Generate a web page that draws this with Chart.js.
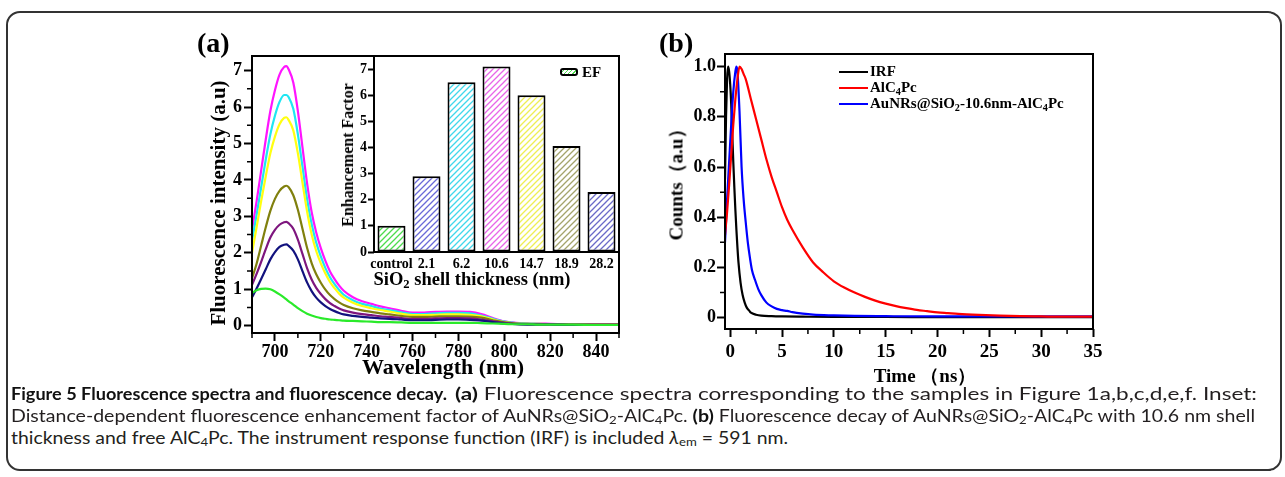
<!DOCTYPE html>
<html>
<head>
<meta charset="utf-8">
<script src="https://cdn.jsdelivr.net/npm/chart.js@4.4.0/dist/chart.umd.min.js"></script>
<style>
html, body { margin: 0; padding: 0; background: #fff; }
body { width: 1285px; height: 477px; position: relative; overflow: hidden; }
#frame { position: absolute; left: 6px; top: 11px; width: 1276px; height: 460px; border: 2px solid #333; border-radius: 14px; box-sizing: border-box; }
canvas { position: absolute; }
.t { position: absolute; font-family: "Liberation Serif", "Times New Roman", serif; font-weight: bold; color: #000; white-space: nowrap; line-height: 1; }
.c { transform: translate(-50%, -50%); }
.r { transform: translate(-50%, -50%) rotate(-90deg); }
.t sub { font-size: 0.68em; vertical-align: -0.25em; line-height: 0; }
.cap { position: absolute; font-family: Lato, "Open Sans", sans-serif; font-size: 16.5px; color: #231f20; white-space: nowrap; line-height: 22px; transform-origin: 0 50%; }
.cap b, .cap.bold { font-weight: bold; color: #111; }
.cap sub { font-size: 0.68em; vertical-align: -0.2em; line-height: 0; }
.leg { position: absolute; height: 2px; width: 29px; }
#efbox { position: absolute; left: 560px; top: 68px; width: 18px; height: 8px; box-sizing: border-box; border: 2px solid #000; border-radius: 3px;
  background: repeating-linear-gradient(-45deg, #fff 0 2px, #4ddc4d 2px 3px); }
</style>
</head>
<body>
<div id="frame"></div>

<canvas id="spectra" width="490" height="350" style="left:150px; top:40px;"></canvas>
<canvas id="inset" width="300" height="255" style="left:330px; top:40px;"></canvas>
<canvas id="decay" width="480" height="350" style="left:640px; top:40px;"></canvas>

<div class="t" style="left:197px; top:29px; font-size:28px;">(a)</div>
<div class="t" style="left:659px; top:29px; font-size:28px;">(b)</div>

<div class="t r" style="left:218px; top:203px; font-size:21px;">Fluorescence intensity (a.u)</div>
<div class="t c" style="left:443px; top:367px; font-size:22px;">Wavelength (nm)</div>
<div class="t r" style="left:348px; top:155px; font-size:16px;">Enhancement Factor</div>
<div class="t c" style="left:472px; top:279px; font-size:18.5px;">SiO<sub>2</sub> shell thickness (nm)</div>
<div id="efbox"></div>
<div class="t" style="left:582px; top:65px; font-size:15px;">EF</div>

<div class="t r" style="left:676px; top:180px; font-size:19px;">Counts（a.u）</div>
<div class="t c" style="left:925px; top:375px; font-size:19px;">Time （ns）</div>

<div class="leg" style="left:839px; top:71px; background:#000;"></div>
<div class="leg" style="left:839px; top:87px; background:#ff0000;"></div>
<div class="leg" style="left:839px; top:103px; background:#0000ff;"></div>
<div class="t" style="left:870px; top:64px; font-size:15px;">IRF</div>
<div class="t" style="left:870px; top:80px; font-size:15px;">AlC<sub>4</sub>Pc</div>
<div class="t" style="left:870px; top:96px; font-size:15px;">AuNRs@SiO<sub>2</sub>-10.6nm-AlC<sub>4</sub>Pc</div>

<div class="cap bold" data-w="436" style="left:11px; top:383px;">Figure 5 Fluorescence spectra and fluorescence decay.</div>
<div class="cap" data-w="802" style="left:455px; top:383px;"><b>(a)</b> Fluorescence spectra corresponding to the samples in Figure 1a,b,c,d,e,f. Inset:</div>
<div class="cap" data-w="1244" style="left:11px; top:405px;">Distance-dependent fluorescence enhancement factor of AuNRs@SiO<sub>2</sub>-AlC<sub>4</sub>Pc. <b>(b)</b> Fluorescence decay of AuNRs@SiO<sub>2</sub>-AlC<sub>4</sub>Pc with 10.6 nm shell</div>
<div class="cap" data-w="777" style="left:11px; top:427px;">thickness and free AlC<sub>4</sub>Pc. The instrument response function (IRF) is included <i>λ</i><sub>em</sub> = 591 nm.</div>

<script>
// Panel (a): emission spectra, one array per sample
const wavelength = [690, 692, 694, 696, 698, 700, 702, 704, 705, 706, 708, 710, 712, 714, 716, 718, 720, 722, 724, 726, 728, 730,
  734, 738, 742, 746, 750, 755, 760, 765, 770, 775, 780, 785, 790, 795, 800, 805, 810, 815, 820, 830, 840, 850];
const specControl = [0.90, 0.97, 1.01, 1.02, 1.00, 0.94, 0.86, 0.77, 0.72, 0.67, 0.58, 0.48, 0.40, 0.33, 0.28, 0.24, 0.21, 0.19, 0.17, 0.16, 0.15, 0.14,
  0.13, 0.12, 0.11, 0.10, 0.10, 0.09, 0.08, 0.08, 0.08, 0.08, 0.08, 0.08, 0.07, 0.06, 0.05, 0.04, 0.04, 0.03, 0.03, 0.03, 0.02, 0.02];
const spec21 = [1.12, 1.42, 1.75, 2.10, 2.42, 2.63, 2.77, 2.84, 2.85, 2.81, 2.66, 2.36, 1.97, 1.58, 1.27, 1.04, 0.87, 0.73, 0.62, 0.54, 0.47, 0.42,
  0.36, 0.32, 0.29, 0.26, 0.24, 0.21, 0.19, 0.19, 0.20, 0.21, 0.21, 0.20, 0.17, 0.12, 0.08, 0.05, 0.04, 0.04, 0.04, 0.03, 0.03, 0.03];
const spec62 = [2.34, 3.04, 3.80, 4.56, 5.25, 5.76, 6.14, 6.33, 6.33, 6.27, 5.95, 5.25, 4.37, 3.48, 2.79, 2.28, 1.90, 1.58, 1.33, 1.14, 0.98, 0.85,
  0.70, 0.60, 0.54, 0.47, 0.43, 0.37, 0.32, 0.32, 0.34, 0.35, 0.35, 0.34, 0.28, 0.19, 0.11, 0.07, 0.06, 0.05, 0.04, 0.04, 0.04, 0.04];
const spec106 = [2.63, 3.41, 4.26, 5.11, 5.89, 6.46, 6.89, 7.10, 7.12, 7.03, 6.67, 5.89, 4.90, 3.91, 3.12, 2.56, 2.13, 1.78, 1.49, 1.28, 1.10, 0.96,
  0.78, 0.67, 0.60, 0.53, 0.48, 0.41, 0.36, 0.36, 0.38, 0.39, 0.39, 0.38, 0.32, 0.21, 0.12, 0.08, 0.06, 0.06, 0.05, 0.04, 0.04, 0.04];
const spec147 = [2.00, 2.70, 3.42, 4.10, 4.73, 5.19, 5.53, 5.70, 5.72, 5.64, 5.36, 4.73, 3.93, 3.14, 2.51, 2.05, 1.71, 1.43, 1.20, 1.03, 0.88, 0.77,
  0.63, 0.54, 0.48, 0.43, 0.39, 0.33, 0.29, 0.29, 0.30, 0.31, 0.31, 0.30, 0.26, 0.17, 0.10, 0.06, 0.05, 0.05, 0.04, 0.03, 0.03, 0.03];
const spec189 = [1.30, 1.70, 2.20, 2.70, 3.15, 3.48, 3.70, 3.82, 3.84, 3.80, 3.58, 3.18, 2.66, 2.14, 1.72, 1.41, 1.18, 0.99, 0.84, 0.73, 0.64, 0.57,
  0.48, 0.42, 0.38, 0.34, 0.31, 0.27, 0.24, 0.24, 0.25, 0.26, 0.26, 0.25, 0.22, 0.15, 0.09, 0.06, 0.05, 0.04, 0.04, 0.03, 0.03, 0.03];
const spec282 = [0.78, 1.02, 1.28, 1.55, 1.82, 2.02, 2.16, 2.22, 2.23, 2.19, 2.06, 1.82, 1.50, 1.19, 0.95, 0.77, 0.64, 0.54, 0.46, 0.40, 0.35, 0.31,
  0.27, 0.24, 0.22, 0.20, 0.19, 0.17, 0.15, 0.15, 0.16, 0.17, 0.17, 0.16, 0.14, 0.10, 0.06, 0.04, 0.03, 0.03, 0.03, 0.02, 0.02, 0.02];
const wlTicks = [700, 720, 740, 760, 780, 800, 820, 840];
const wlMinor = [690, 710, 730, 750, 770, 790, 810, 830, 850];
const intensityTicks = [0, 1, 2, 3, 4, 5, 6, 7];
const intensityMinor = [0.5, 1.5, 2.5, 3.5, 4.5, 5.5, 6.5];

// Inset: enhancement factor vs shell thickness
const thicknessLabels = ['control', '2.1', '6.2', '10.6', '14.7', '18.9', '28.2'];
const enhancementFactor = [1.0, 2.9, 6.5, 7.1, 6.0, 4.06, 2.3];
const efTicks = [0, 1, 2, 3, 4, 5, 6, 7];

// Panel (b): decay curves
const irfTime = [-0.5, -0.4, -0.3, -0.2, -0.1, 0, 0.1, 0.2, 0.3, 0.4, 0.5, 0.6, 0.7, 0.8, 1.0, 1.2, 1.4, 1.6, 1.8, 2.0, 2.5, 3, 4, 5, 7, 10, 15, 20, 25, 30, 35];
const irfCounts = [0.55, 0.80, 0.95, 1.00, 0.98, 0.93, 0.85, 0.73, 0.62, 0.52, 0.43, 0.35, 0.28, 0.22, 0.14, 0.09, 0.06, 0.04, 0.03, 0.02, 0.012, 0.008, 0.006, 0.005, 0.004, 0.003, 0.003, 0.002, 0.002, 0.002, 0.002];
const alcTime = [-0.5, -0.3, -0.1, 0.1, 0.3, 0.5, 0.7, 0.9, 1.1, 1.3, 1.5, 2, 2.5, 3, 3.5, 4, 4.5, 5, 5.5, 6, 7, 8, 9, 10, 11, 12, 13, 14, 15, 16, 17, 18, 19, 20, 21, 22, 24, 26, 28, 30, 32, 35];
const alcCounts = [0.33, 0.42, 0.53, 0.65, 0.77, 0.87, 0.95, 1.00, 0.99, 0.97, 0.95, 0.87, 0.79, 0.71, 0.63, 0.56, 0.50, 0.44, 0.39, 0.35, 0.28, 0.22, 0.18, 0.145, 0.12, 0.10, 0.083, 0.068, 0.056, 0.046, 0.038, 0.031, 0.026, 0.021, 0.018, 0.015, 0.011, 0.008, 0.006, 0.005, 0.004, 0.004];
const aunrTime = [-0.5, -0.3, -0.1, 0.1, 0.3, 0.5, 0.6, 0.7, 0.9, 1.1, 1.3, 1.5, 1.7, 1.9, 2.1, 2.4, 2.7, 3.0, 3.5, 4.0, 4.5, 5.0, 5.5, 6, 7, 8, 10, 12, 15, 20, 25, 30, 35];
const aunrCounts = [0.30, 0.47, 0.62, 0.77, 0.90, 0.98, 1.00, 0.98, 0.82, 0.60, 0.47, 0.38, 0.30, 0.24, 0.19, 0.15, 0.115, 0.09, 0.06, 0.045, 0.035, 0.03, 0.027, 0.022, 0.016, 0.012, 0.009, 0.007, 0.006, 0.005, 0.005, 0.005, 0.005];
const timeTicks = [0, 5, 10, 15, 20, 25, 30, 35];
const timeMinor = [2.5, 7.5, 12.5, 17.5, 22.5, 27.5, 32.5];
const countsTicks = [0, 0.2, 0.4, 0.6, 0.8, 1.0];
const countsMinor = [0.1, 0.3, 0.5, 0.7, 0.9];

const serif = "'Liberation Serif', serif";

// frame around plot area + short minor ticks
const framePlugin = {
  id: 'frame',
  afterDatasetsDraw(chart, args, opts) {
    const { ctx, chartArea: a, scales } = chart;
    ctx.save();
    ctx.strokeStyle = '#000';
    ctx.lineWidth = 2;
    ctx.strokeRect(a.left, a.top, a.right - a.left, a.bottom - a.top);
    ctx.lineWidth = 1.5;
    ctx.beginPath();
    (opts.xMinor || []).forEach(v => {
      const px = scales.x.getPixelForValue(v);
      ctx.moveTo(px, a.bottom);
      ctx.lineTo(px, a.bottom + opts.len);
    });
    (opts.yMinor || []).forEach(v => {
      const py = scales.y.getPixelForValue(v);
      ctx.moveTo(a.left, py);
      ctx.lineTo(a.left - opts.len, py);
    });
    ctx.stroke();
    ctx.restore();
  }
};

function pts(xs, ys) {
  return xs.map((x, i) => ({ x: x, y: ys[i] }));
}

function lineSet(xs, ys, color) {
  return { data: pts(xs, ys), borderColor: color, borderWidth: 2.2, pointRadius: 0, fill: false, cubicInterpolationMode: 'monotone' };
}

function axisGrid(len) {
  return { display: true, drawOnChartArea: false, drawTicks: true, tickLength: len, tickWidth: 2, tickColor: '#000' };
}

function fixedTicks(list) {
  return scale => { scale.ticks = list.map(v => ({ value: v })); };
}

function tickFont(size) {
  return { family: serif, weight: 700, size: size };
}

// Spectra
new Chart(document.getElementById('spectra'), {
  type: 'line',
  data: {
    datasets: [
      lineSet(wavelength, specControl, '#2aea2a'),
      lineSet(wavelength, spec282, '#12127e'),
      lineSet(wavelength, spec21, '#7e167e'),
      lineSet(wavelength, spec189, '#80800e'),
      lineSet(wavelength, spec147, '#ffff10'),
      lineSet(wavelength, spec62, '#1ee6f2'),
      lineSet(wavelength, spec106, '#ff14ff')
    ]
  },
  options: {
    responsive: false,
    animation: false,
    devicePixelRatio: 1,
    layout: { padding: { left: 0, top: 16, right: 21, bottom: 0 } },
    plugins: { legend: { display: false }, tooltip: { enabled: false },
      frame: { xMinor: wlMinor, yMinor: intensityMinor, len: 5 } },
    scales: {
      x: { type: 'linear', min: 690, max: 850,
        afterBuildTicks: fixedTicks(wlTicks),
        afterFit: s => { s.height = 57; },
        grid: axisGrid(8), border: { display: false },
        ticks: { color: '#000', padding: 1, font: tickFont(18) } },
      y: { type: 'linear', min: -0.2, max: 7.4,
        afterBuildTicks: fixedTicks(intensityTicks),
        afterFit: s => { s.width = 102; },
        grid: axisGrid(8), border: { display: false },
        ticks: { color: '#000', padding: 2, font: tickFont(18) } }
    }
  },
  plugins: [framePlugin]
});

// hatched bar fill
function hatch(color) {
  const c = document.createElement('canvas');
  c.width = 6; c.height = 6;
  const g = c.getContext('2d');
  g.fillStyle = '#fff';
  g.fillRect(0, 0, 6, 6);
  g.strokeStyle = color;
  g.lineWidth = 1.3;
  g.beginPath();
  g.moveTo(0, 6); g.lineTo(6, 0);
  g.moveTo(-3, 3); g.lineTo(3, -3);
  g.moveTo(3, 9); g.lineTo(9, 3);
  g.stroke();
  const ctx = document.getElementById('inset').getContext('2d');
  return ctx.createPattern(c, 'repeat');
}

const barColors = ['#4ddc4d', '#6a6ad8', '#40d8ec', '#e866e8', '#eeee55', '#a4a46c', '#6a6ac8'];

new Chart(document.getElementById('inset'), {
  type: 'bar',
  data: {
    labels: thicknessLabels,
    datasets: [{
      data: enhancementFactor,
      backgroundColor: barColors.map(hatch),
      borderColor: '#000',
      borderWidth: 2,
      borderSkipped: false,
      barPercentage: 0.8,
      categoryPercentage: 1.0
    }]
  },
  options: {
    responsive: false,
    animation: false,
    devicePixelRatio: 1,
    layout: { padding: { left: 0, top: 16, right: 11, bottom: 0 } },
    plugins: { legend: { display: false }, tooltip: { enabled: false },
      frame: { xMinor: [], yMinor: [], len: 0 } },
    scales: {
      x: { afterFit: s => { s.height = 43; },
        grid: { display: false, drawTicks: false }, border: { display: false },
        ticks: { color: '#000', padding: 4, maxRotation: 0, autoSkip: false, font: tickFont(14) } },
      y: { type: 'linear', min: 0, max: 7.5,
        afterBuildTicks: fixedTicks(efTicks),
        afterFit: s => { s.width = 44; },
        grid: axisGrid(6), border: { display: false },
        ticks: { color: '#000', padding: 1, font: tickFont(14) } }
    }
  },
  plugins: [framePlugin]
});

// Decay
new Chart(document.getElementById('decay'), {
  type: 'line',
  data: {
    datasets: [
      lineSet(alcTime, alcCounts, '#ff0000'),
      lineSet(aunrTime, aunrCounts, '#0000ff'),
      lineSet(irfTime, irfCounts, '#000000')
    ]
  },
  options: {
    responsive: false,
    animation: false,
    devicePixelRatio: 1,
    layout: { padding: { left: 0, top: 14, right: 27, bottom: 0 } },
    plugins: { legend: { display: false }, tooltip: { enabled: false },
      frame: { xMinor: timeMinor, yMinor: countsMinor, len: 5 } },
    scales: {
      x: { type: 'linear', min: -0.5, max: 35,
        afterBuildTicks: fixedTicks(timeTicks),
        afterFit: s => { s.height = 61; },
        grid: axisGrid(8), border: { display: false },
        ticks: { color: '#000', padding: 4, font: tickFont(19) } },
      y: { type: 'linear', min: -0.045, max: 1.05,
        afterBuildTicks: fixedTicks(countsTicks),
        afterFit: s => { s.width = 85; },
        grid: axisGrid(8), border: { display: false },
        ticks: { color: '#000', padding: 1, font: tickFont(18),
          callback: v => v === 0 ? '0' : v.toFixed(1) } }
    }
  },
  plugins: [framePlugin]
});

// squeeze caption pieces to the printed widths
function fitCaption() {
  document.querySelectorAll('.cap').forEach(el => {
    el.style.transform = 'none';
    const w = el.getBoundingClientRect().width;
    el.style.transform = 'scaleX(' + (parseFloat(el.dataset.w) / w) + ')';
  });
}
fitCaption();
if (document.fonts && document.fonts.ready) document.fonts.ready.then(fitCaption);
</script>
</body>
</html>
